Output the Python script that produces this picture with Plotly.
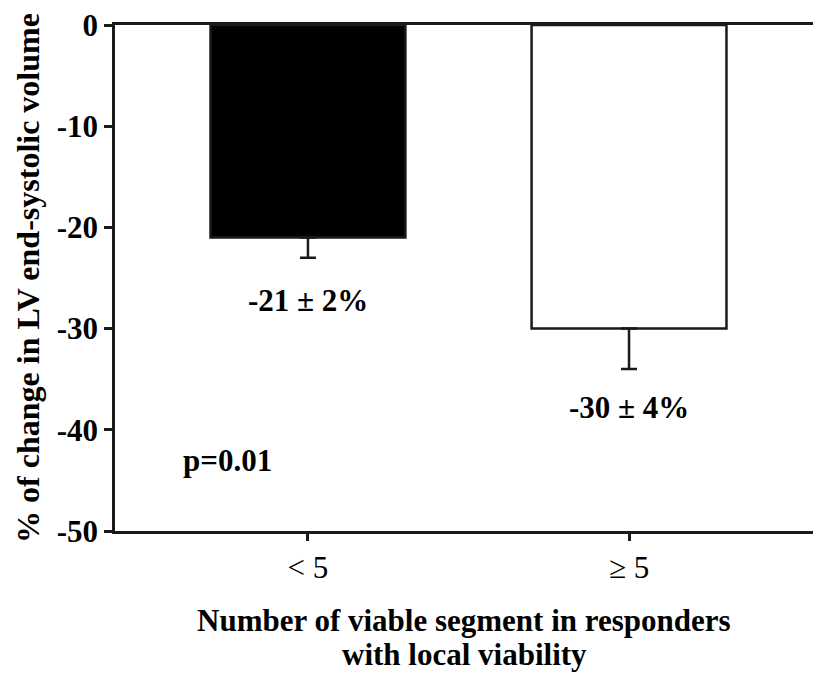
import plotly.graph_objects as go

categories = ["< 5", "≥ 5"]
values = [-21, -30]
errors_down = [2, 4]
bar_colors = ["black", "white"]
value_labels = ["-21 ± 2%", "-30 ± 4%"]
label_y = [-27.2, -37.8]
y_tickvals = [0, -10, -20, -30, -40, -50]
y_ticktext = ["0", "-10", "-20", "-30", "-40", "-50"]
p_text = "p=0.01"
x_title_lines = ["Number of viable segment in responders", "with local viability"]
y_title = "% of change in LV end-systolic volume"

FONT = "Liberation Serif, Times New Roman, serif"
LINE = "#1a1a1a"

fig = go.Figure()
fig.add_trace(go.Bar(
    x=[0, 1], y=values, width=0.607,
    marker=dict(color=bar_colors, line=dict(color=LINE, width=2.5)),
    error_y=dict(type="data", symmetric=False, array=[0, 0], arrayminus=errors_down,
                 color=LINE, thickness=2.5, width=8),
    showlegend=False, hoverinfo="skip",
))

for i, (t, yv) in enumerate(zip(value_labels, label_y)):
    fig.add_annotation(x=i, y=yv, text=f"<b>{t}</b>", showarrow=False,
                       font=dict(family=FONT, size=31, color="black"))
fig.add_annotation(x=-0.25, y=-43.0, text=f"<b>{p_text}</b>", showarrow=False,
                   font=dict(family=FONT, size=31, color="black"))
for line_text, shift in zip(x_title_lines, [-89, -123]):
    fig.add_annotation(xref="paper", yref="paper", x=0.5, y=0, yanchor="middle", yshift=shift,
                       text=f"<b>{line_text}</b>", showarrow=False, borderpad=0,
                       font=dict(family=FONT, size=31, color="black"))

fig.update_layout(
    width=813, height=676,
    margin=dict(l=115, r=0, t=25, b=145),
    paper_bgcolor="white", plot_bgcolor="white",
    font=dict(family=FONT, color="black"),
    xaxis=dict(range=[-0.601, 1.573], tickvals=[0, 1], ticktext=categories,
               automargin=False,
               showline=True, linecolor=LINE, linewidth=2.5, mirror=True,
               ticks="outside", ticklen=7, tickwidth=2.5, tickcolor=LINE,
               showgrid=False, zeroline=False,
               tickfont=dict(family=FONT, size=31, color="black")),
    yaxis=dict(range=[-50, 0], tickvals=y_tickvals, ticktext=y_ticktext,
               automargin=False,
               showline=True, linecolor=LINE, linewidth=2.5,
               ticks="outside", ticklen=8, tickwidth=2.5, tickcolor=LINE,
               showgrid=False, zeroline=False,
               tickfont=dict(family=FONT, size=31, color="black", weight="bold"),
               title=dict(text=f"<b>{y_title}</b>",
                          font=dict(family=FONT, size=32, color="black"), standoff=8)),
)

fig.write_html("out.html", config={"displayModeBar": False},
               post_script="document.body.style.margin='0';")
